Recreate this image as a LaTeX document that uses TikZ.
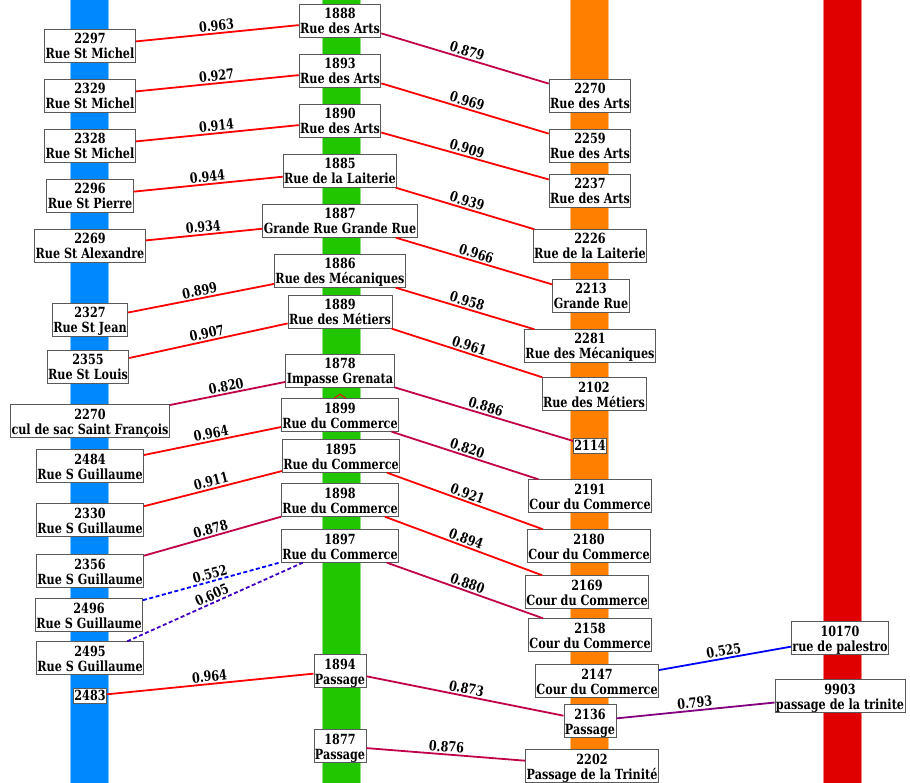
\documentclass[tikz,border=0pt]{standalone}
\usepackage{fontspec}
\setmainfont{DejaVu Serif}[FakeStretch=0.8]
\definecolor{colblue}{RGB}{0,136,255}
\definecolor{colgreen}{RGB}{34,198,0}
\definecolor{colorange}{RGB}{255,128,0}
\definecolor{colred}{RGB}{225,0,0}
\definecolor{crim}{RGB}{192,0,72}

\begin{document}
\fontsize{14}{15}\selectfont
\begin{tikzpicture}
[x=1pt,y=-1pt
,st/.style={draw=black!65,fill=white,line width=0.8pt,align=center,inner xsep=1pt,inner ysep=0.8pt,font=\bfseries
 ,text height=28.5pt,text depth=2.5pt}
,st1/.style={st,text height=11pt}
,bar/.style={line width=0.8pt}
,lk/.style={line width=1.8pt,red}
,lkm/.style={lk,crim}
,lkd/.style={lk,dash pattern=on 4pt off 2.5pt}
,lb/.style={sloped,inner sep=1.5pt,font=\bfseries,text=black}
,auto]
\useasboundingbox (0,0) rectangle (910,783);
% columns
\filldraw[bar,fill=colblue,draw=colblue!50!white] (70,-2) rectangle (108,785);
\filldraw[bar,fill=colgreen,draw=colgreen!50!white] (322,-2) rectangle (360,785);
\filldraw[bar,fill=colorange,draw=colorange!50!white] (570,-2) rectangle (608,785);
\filldraw[bar,fill=colred,draw=colred!50!white] (823,-2) rectangle (861,785);
% left
\node[st] (l2297) at (90,46) {2297\\Rue St Michel};
\node[st] (l2329) at (90,96) {2329\\Rue St Michel};
\node[st] (l2328) at (90,146) {2328\\Rue St Michel};
\node[st] (l2296) at (90,196) {2296\\Rue St Pierre};
\node[st] (l2269) at (90,246) {2269\\Rue St Alexandre};
\node[st] (l2327) at (90,320) {2327\\Rue St Jean};
\node[st] (l2355) at (88,367) {2355\\Rue St Louis};
\node[st] (l2270) at (90,421) {2270\\cul de sac Saint François};
\node[st] (l2484) at (90,466) {2484\\Rue S Guillaume};
\node[st] (l2330) at (90,520) {2330\\Rue S Guillaume};
\node[st] (l2356) at (90,571) {2356\\Rue S Guillaume};
\node[st] (l2496) at (89,615) {2496\\Rue S Guillaume};
\node[st] (l2495) at (90,658) {2495\\Rue S Guillaume};
\node[st1] (l2483) at (90,696) {2483};
% middle
\node[st] (m1888) at (340,21) {1888\\Rue des Arts};
\node[st] (m1893) at (340,71) {1893\\Rue des Arts};
\node[st] (m1890) at (340,121) {1890\\Rue des Arts};
\node[st] (m1885) at (340,171) {1885\\Rue de la Laiterie};
\node[st] (m1887) at (340,221) {1887\\Grande Rue Grande Rue};
\node[st] (m1886) at (340,271) {1886\\Rue des Mécaniques};
\node[st] (m1889) at (340,312) {1889\\Rue des Métiers};
\node[st] (m1878) at (340,371) {1878\\Impasse Grenata};
\node[st] (m1899) at (340,415) {1899\\Rue du Commerce};
\node[st] (m1895) at (341,456) {1895\\Rue du Commerce};
\node[st] (m1898) at (340,500) {1898\\Rue du Commerce};
\node[st] (m1897) at (340,546) {1897\\Rue du Commerce};
\node[st] (m1894) at (340,671) {1894\\Passage};
\node[st] (m1877) at (340,746) {1877\\Passage};
% right
\node[st] (r2270) at (590,96) {2270\\Rue des Arts};
\node[st] (r2259) at (590,146) {2259\\Rue des Arts};
\node[st] (r2237) at (590,191) {2237\\Rue des Arts};
\node[st] (r2226) at (590,246) {2226\\Rue de la Laiterie};
\node[st] (r2213) at (591,296) {2213\\Grande Rue};
\node[st] (r2281) at (590,346) {2281\\Rue des Mécaniques};
\node[st] (r2102) at (594,394) {2102\\Rue des Métiers};
\node[st1] (r2114) at (590,446) {2114};
\node[st] (r2191) at (590,496) {2191\\Cour du Commerce};
\node[st] (r2180) at (589,546) {2180\\Cour du Commerce};
\node[st] (r2169) at (587,592) {2169\\Cour du Commerce};
\node[st] (r2158) at (590,635) {2158\\Cour du Commerce};
\node[st] (r2147) at (597,681) {2147\\Cour du Commerce};
\node[st] (r2136) at (590,721) {2136\\Passage};
\node[st] (r2202) at (592,766) {2202\\Passage de la Trinité};
% far right
\node[st] (f10170) at (840,638) {10170\\rue de palestro};
\node[st] (f9903) at (840,696) {9903\\passage de la trinite};
% left - middle
\draw[lk] (l2297) -- node[lb]{0.963} (m1888);
\draw[lk] (l2329) -- node[lb]{0.927} (m1893);
\draw[lk] (l2328) -- node[lb]{0.914} (m1890);
\draw[lk] (l2296) -- node[lb]{0.944} (m1885);
\draw[lk] (l2269) -- node[lb]{0.934} (m1887);
\draw[lk] (l2327) -- node[lb]{0.899} (m1886);
\draw[lk] (l2355) -- node[lb]{0.907} (m1889);
\draw[lkm] (l2270) -- node[lb]{0.820} (m1878);
\draw[lk] (l2484) -- node[lb]{0.964} (m1899);
\draw[lk] (l2330) -- node[lb]{0.911} (m1895);
\draw[lkm] (l2356) -- node[lb]{0.878} (m1898);
\draw[lkd,blue] (l2496) -- node[lb]{0.552} (m1897);
\draw[lkd,red!25!blue] (l2495) -- node[lb]{0.605} (m1897);
\draw[lk] (l2483) -- node[lb]{0.964} (m1894);
% middle - right
\draw[lkm] (m1888) -- node[lb]{0.879} (r2270);
\draw[lk] (m1893) -- node[lb]{0.969} (r2259);
\draw[lk] (m1890) -- node[lb]{0.909} (r2237);
\draw[lk] (m1885) -- node[lb]{0.939} (r2226);
\draw[lk] (m1887) -- node[lb]{0.966} (r2213);
\draw[lk] (m1886) -- node[lb]{0.958} (r2281);
\draw[lk] (m1889) -- node[lb]{0.961} (r2102);
\draw[lkm] (m1878) -- node[lb]{0.886} (r2114);
\draw[lkm] (m1899) -- node[lb]{0.820} (r2191);
\draw[lk] (m1895) -- node[lb]{0.921} (r2180);
\draw[lk] (m1898) -- node[lb]{0.894} (r2169);
\draw[lkm] (m1897) -- node[lb]{0.880} (r2158);
\draw[lkm] (m1894) -- node[lb]{0.873} (r2136);
\draw[lkm] (m1877) -- node[lb]{0.876} (r2202);
% right - far right
\draw[lk,blue] (r2147) -- node[lb]{0.525} (f10170);
\draw[lk,red!50!blue] (r2136) -- node[lb]{0.793} (f9903);
% small mark above 1899
\draw[red,line width=1pt] ([xshift=-6pt]m1899.north) -- ++(6,-4) -- ++(6,4);
\end{tikzpicture}
\end{document}
